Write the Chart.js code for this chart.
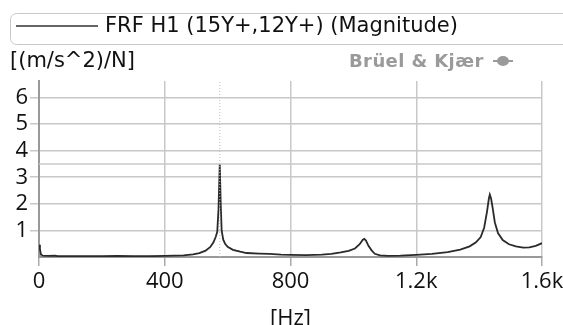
<!DOCTYPE html>
<html>
<head>
<meta charset="utf-8">
<script src="https://cdn.jsdelivr.net/npm/chart.js@4.4.0/dist/chart.umd.min.js"></script>
<style>
  body { margin: 0; background: #fff; }
  #wrap { width: 563px; height: 325px; }
</style>
</head>
<body>
<div id="wrap"><canvas id="chart_frf" width="563" height="325"></canvas></div>
<script>
// FRF H1 magnitude
var freqHz = [0, 3, 6, 12, 30, 50, 60, 100, 150, 200, 250, 300, 350, 400, 430, 460, 490, 510, 530, 545, 555, 562, 567, 571, 575,
  578, 581, 586, 592, 600, 617, 640, 660, 700, 733, 770, 800, 850, 900, 930, 960, 985, 1005, 1020, 1030, 1035, 1040, 1048,
  1058, 1068, 1085, 1110, 1150, 1200, 1250, 1300, 1340, 1370, 1390, 1405, 1416, 1425, 1431, 1434, 1438, 1443, 1450, 1460,
  1475, 1495, 1517, 1540, 1560, 1580, 1600];
var magnitude = [0.46, 0.3, 0.1, 0.05, 0.04, 0.05, 0.03, 0.03, 0.03, 0.03, 0.04, 0.03, 0.03, 0.04, 0.05, 0.06, 0.1, 0.15, 0.24, 0.38, 0.55, 0.75, 0.95, 1.8, 3.5,
  2.0, 1.0, 0.65, 0.5, 0.38, 0.27, 0.2, 0.15, 0.13, 0.12, 0.09, 0.08, 0.07, 0.09, 0.12, 0.17, 0.23, 0.32, 0.48, 0.65, 0.68, 0.62, 0.42,
  0.25, 0.12, 0.06, 0.04, 0.05, 0.08, 0.12, 0.18, 0.28, 0.4, 0.55, 0.75, 1.1, 1.7, 2.2, 2.35, 2.2, 1.85, 1.3, 0.9,
  0.64, 0.48, 0.4, 0.35, 0.36, 0.42, 0.52];

var xTicks = [0, 400, 800, 1200, 1600];
var xTickLabels = ['0', '400', '800', '1.2k', '1.6k'];
var yTicks = [1, 2, 3, 4, 5, 6];

var peakFreq = 575;
var peakMag = 3.5;
var yMax = 6.62;

var legendText = 'FRF H1 (15Y+,12Y+) (Magnitude)';
var unitText = '[(m/s^2)/N]';
var logoText = 'Brüel & Kjær';

var fontName = "'Open Sans', 'Noto Sans', sans-serif";
var labelFont = "'DejaVu Sans', sans-serif";

function createChart() {
  var points = freqHz.map(function (f, i) { return { x: f, y: magnitude[i] }; });

  var decor = {
    id: 'decor',
    afterDraw: function (chart) {
      var ctx = chart.ctx;
      ctx.save();
      // legend box
      ctx.strokeStyle = '#c8c8c8';
      ctx.lineWidth = 1;
      ctx.beginPath();
      ctx.roundRect(10.5, 13.5, 600, 31, 6);
      ctx.stroke();
      ctx.strokeStyle = '#333';
      ctx.lineWidth = 1.5;
      ctx.beginPath();
      ctx.moveTo(16, 26);
      ctx.lineTo(98, 26);
      ctx.stroke();
      ctx.fillStyle = '#111';
      ctx.font = '21px ' + labelFont;
      ctx.textBaseline = 'middle';
      ctx.fillText(legendText, 105, 27);
      // unit
      ctx.fillText(unitText, 10, 62);
      // logo
      ctx.fillStyle = '#9a9a9a';
      ctx.font = 'bold 18px ' + labelFont;
      ctx.letterSpacing = '0.4px';
      ctx.fillText(logoText, 349, 62);
      ctx.letterSpacing = '0px';
      ctx.beginPath();
      ctx.ellipse(503, 61, 6, 5, 0, 0, Math.PI * 2);
      ctx.fill();
      ctx.fillRect(493, 60, 20, 2);
      ctx.restore();
    }
  };

  var chart = new Chart('chart_frf', {
    type: 'line',
    data: {
      datasets: [
        {
          label: 'peak h',
          data: [{ x: 0, y: peakMag }, { x: 1600, y: peakMag }],
          borderColor: '#c8c8c8',
          borderWidth: 1.5,
          pointRadius: 0
        },
        {
          label: 'peak v',
          data: [{ x: peakFreq, y: 0 }, { x: peakFreq, y: yMax }],
          borderColor: '#bdbdbd',
          borderWidth: 1,
          borderDash: [1, 2],
          pointRadius: 0
        },
        {
          label: legendText,
          data: points,
          borderColor: '#2a2a2a',
          borderWidth: 1.8,
          pointRadius: 0,
          tension: 0
        }
      ]
    },
    options: {
      responsive: false,
      animation: false,
      layout: { padding: { top: 81, right: 0, left: 0, bottom: 0 } },
      plugins: {
        legend: { display: false },
        tooltip: { enabled: false }
      },
      scales: {
        x: {
          type: 'linear',
          min: 0,
          max: 1600,
          afterBuildTicks: function (scale) {
            scale.ticks = xTicks.map(function (v) { return { value: v }; });
          },
          afterFit: function (scale) {
            scale.height = 68;
            scale.paddingLeft = 0;
            scale.paddingRight = 21;
          },
          ticks: {
            color: '#111',
            font: { family: fontName, size: 22 },
            padding: 3,
            maxRotation: 0,
            callback: function (v) { return xTickLabels[xTicks.indexOf(v)]; }
          },
          grid: { color: '#c8c8c8', lineWidth: 1.5, tickLength: 9, tickColor: '#aaa' },
          border: { color: '#999', width: 2 },
          title: {
            display: true,
            text: '[Hz]',
            color: '#111',
            font: { family: fontName, size: 22 },
            padding: { top: 0, bottom: -7 }
          }
        },
        y: {
          min: 0,
          max: yMax,
          afterBuildTicks: function (scale) {
            scale.ticks = yTicks.map(function (v) { return { value: v }; });
          },
          afterFit: function (scale) { scale.width = 39; },
          ticks: {
            color: '#111',
            font: { family: fontName, size: 22 },
            padding: 2
          },
          grid: { color: '#c8c8c8', lineWidth: 1.5, tickLength: 9, tickColor: '#c8c8c8' },
          border: { color: '#999', width: 2 }
        }
      }
    },
    plugins: [decor]
  });

  return chart;
}

createChart();
</script>
</body>
</html>
